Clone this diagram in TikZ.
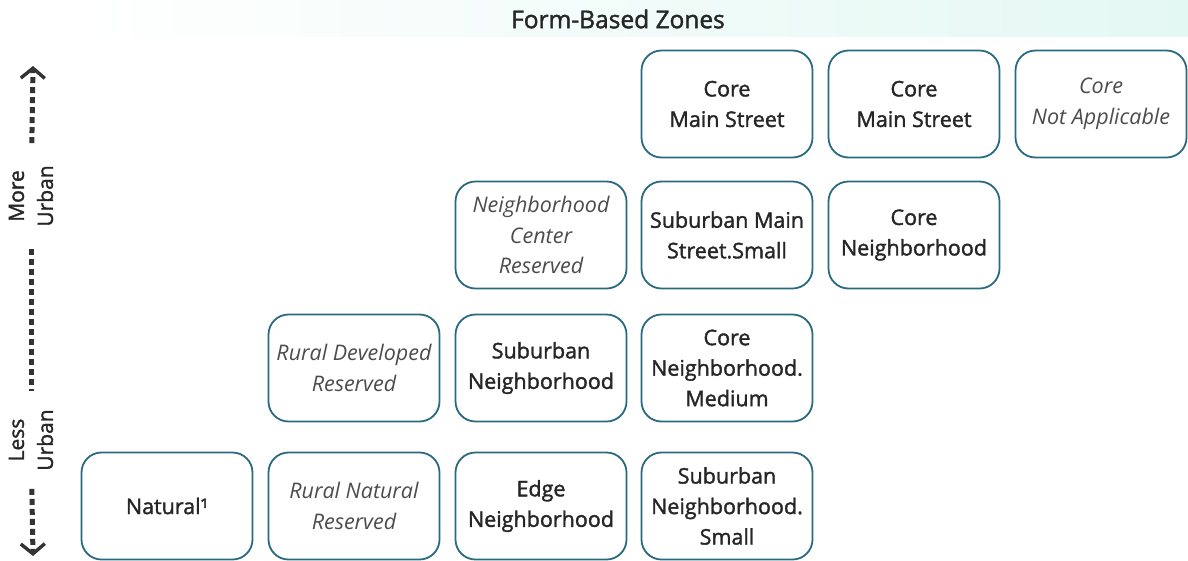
\documentclass[tikz,border=0pt]{standalone}
\usepackage{fontspec}
\setmainfont{Open Sans}
\newfontfamily\zonefont{Open Sans}[FakeBold=1.6]
\usetikzlibrary{arrows.meta}
\definecolor{zoneblue}{HTML}{2A6A80}
\definecolor{bandmint}{HTML}{E4F8F3}
\begin{document}
\begin{tikzpicture}[x=1pt,y=-1pt,
                    zone/.style={draw=zoneblue,line width=1.8pt,rounded corners=20pt,
                                 minimum width=171pt,minimum height=107pt,align=center,
                                 text=black!85,font=\zonefont\fontsize{21.5}{30.5}\selectfont},
                    resv/.style={zone,text=black!70,font=\fontsize{21.5}{30.5}\selectfont\itshape},
                    axis/.style={line width=5pt,dash pattern=on 6pt off 4pt,black!80},
                    tip/.style={-{Straight Barb[length=10pt,width=24pt,line width=3.4pt]}}]
\useasboundingbox (0,0) rectangle (1188,560);
\shade[left color=white,right color=bandmint] (70,0) rectangle (1188,36);
\node[font=\zonefont\fontsize{24.5}{28}\selectfont,text=black!85] (title) at (618,19) {Form-Based Zones};
% top row
\node[zone] (cms1) at (727,104) {Core\\Main Street};
\node[zone] (cms2) at (914,104) {Core\\Main Street};
\node[resv] (cna) at (1101,104) {Core\\Not Applicable};
% second row
\node[resv] (ncr) at (541,235) {Neighborhood\\Center\\Reserved};
\node[zone] (smss) at (727,235) {Suburban Main\\Street.Small};
\node[zone] (cn) at (914,235) {Core\\Neighborhood};
% third row
\node[resv] (rdr) at (354,368) {Rural Developed\\Reserved};
\node[zone] (sn) at (541,368) {Suburban\\Neighborhood};
\node[zone] (cnm) at (727,368) {Core\\Neighborhood.\\Medium};
% bottom row
\node[zone] (nat) at (167,506) {Natural¹};
\node[resv] (rnr) at (354,506) {Rural Natural\\Reserved};
\node[zone] (en) at (541,506) {Edge\\Neighborhood};
\node[zone] (sns) at (727,506) {Suburban\\Neighborhood.\\Small};
% urban axis
\coordinate (top) at (33,66);
\coordinate (bot) at (33,556);
\node[rotate=90,align=center,inner xsep=22pt,inner ysep=1pt,text=black!85,
      font=\zonefont\fontsize{21}{29}\selectfont] (more) at (31,196) {More\\Urban};
\node[rotate=90,align=center,inner xsep=18pt,inner ysep=1pt,text=black!85,
      font=\zonefont\fontsize{21}{29}\selectfont] (less) at (31,440) {Less\\Urban};
\draw[axis,tip] (more) -- (top);
\draw[axis] (more) -- (less);
\draw[axis,tip] (less) -- (bot);
\end{tikzpicture}
\end{document}
